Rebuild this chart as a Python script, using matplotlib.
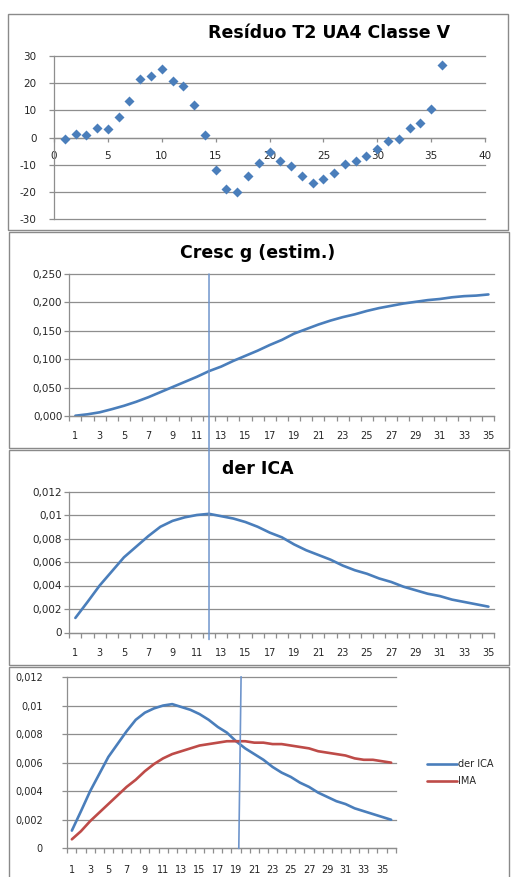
import matplotlib
matplotlib.use("Agg")
import matplotlib.pyplot as plt
from matplotlib.patches import Rectangle, ConnectionPatch
from matplotlib.ticker import FuncFormatter
import numpy as np

plt.rcParams["axes.unicode_minus"] = False

# ---------------- data ----------------
residual_age = list(range(1, 37))
residual = [-0.7, 1.3, 1.1, 3.5, 3.2, 7.5, 13.5, 21.4, 22.8, 25.3, 20.9, 19.1,
            11.8, 0.8, -11.9, -18.9, -19.9, -14.3, -9.4, -5.4, -8.5, -10.4,
            -14.0, -16.6, -15.3, -12.9, -9.7, -8.7, -6.8, -4.4, -1.3, -0.6,
            3.6, 5.2, 10.4, 26.7]

cresc_g = [0.0005, 0.003, 0.0065, 0.012, 0.018, 0.025, 0.033, 0.042, 0.051,
           0.060, 0.069, 0.079, 0.087, 0.097, 0.106, 0.115, 0.125, 0.134,
           0.145, 0.153, 0.161, 0.168, 0.174, 0.179, 0.185, 0.190, 0.194,
           0.198, 0.201, 0.204, 0.206, 0.209, 0.211, 0.212, 0.214]

der_ica = [0.00124, 0.0026, 0.0040, 0.0052, 0.0064, 0.0073, 0.0082, 0.0090,
           0.0095, 0.0098, 0.0100, 0.0101, 0.0099, 0.0097, 0.0094, 0.0090,
           0.0085, 0.0081, 0.0075, 0.0070, 0.0066, 0.0062, 0.0057, 0.0053,
           0.0050, 0.0046, 0.0043, 0.0039, 0.0036, 0.0033, 0.0031, 0.0028,
           0.0026, 0.0024, 0.0022, 0.0020]

ima = [0.00063, 0.0012, 0.0019, 0.0025, 0.0031, 0.0037, 0.0043, 0.0048,
       0.0054, 0.0059, 0.0063, 0.0066, 0.0068, 0.0070, 0.0072, 0.0073,
       0.0074, 0.0075, 0.0075, 0.0075, 0.0074, 0.0074, 0.0073, 0.0073,
       0.0072, 0.0071, 0.0070, 0.0068, 0.0067, 0.0066, 0.0065, 0.0063,
       0.0062, 0.0062, 0.0061, 0.0060]

ica_peak_age = 12      # maximum of the ICA derivative
crossing_age = 19.5    # der ICA meets IMA

titles = ["Resíduo T2 UA4 Classe V", "Cresc g (estim.)", "der ICA"]
legend_labels = ["der ICA", "IMA"]

# ---------------- style ----------------
BLUE = "#4a7ebb"
RED = "#be4b48"
GRID = "#8e8e8e"
TXT = "#262626"
MARK = "#6f95cc"
W, H = 514, 877

fig = plt.figure(figsize=(W / 100, H / 100), dpi=100)
fig.patch.set_facecolor("white")


def box(x0, y0, x1, y1):
    """pixel box (from the top-left) -> figure fraction [l, b, w, h]"""
    return [x0 / W, 1 - y1 / H, (x1 - x0) / W, (y1 - y0) / H]


def frame(x0, y0, x1, y1):
    fig.add_artist(Rectangle((x0 / W, 1 - y1 / H), (x1 - x0) / W, (y1 - y0) / H,
                             transform=fig.transFigure, fill=False,
                             edgecolor="#8a8a8a", linewidth=1.0))


def excel_general(v, pos=None):
    if abs(v) < 1e-12:
        return "0"
    return ("%g" % round(v, 6)).replace(".", ",")


def style_common(ax):
    for s in ["top", "right"]:
        ax.spines[s].set_visible(False)
    for s in ["left", "bottom"]:
        ax.spines[s].set_color(GRID)
        ax.spines[s].set_linewidth(0.9)
    ax.grid(axis="y", color=GRID, linewidth=0.9)
    ax.set_axisbelow(True)
    ax.set_facecolor("none")


def category_axis(ax, n, pad):
    ax.set_xlim(0.5, n + 0.5)
    ax.set_xticks(np.arange(1, n + 1, 2))
    ax.set_xticks(np.arange(0.5, n + 1, 1), minor=True)
    ax.tick_params(axis="x", which="major", length=0, pad=pad,
                   labelsize=7, labelcolor=TXT)
    ax.tick_params(axis="x", which="minor", length=3.5, width=0.9,
                   color=GRID, direction="out")


def title(x, y, text):
    fig.text(x / W, 1 - y / H, text, ha="center", va="center",
             fontsize=12.5, fontweight="bold", color="black")


# ---------------- panel frames ----------------
frame(8, 14, 508, 230)
frame(9, 232, 509, 448)
frame(9, 450, 509, 665)
frame(9, 667, 509, 890)

# ---------------- panel 1: residuals ----------------
ax1 = fig.add_axes(box(54, 56, 485, 219))
style_common(ax1)
ax1.scatter(residual_age, residual, marker="D", s=26, color=BLUE,
            linewidths=0, zorder=3)
ax1.set_xlim(0, 40)
ax1.set_ylim(-30, 30)
ax1.set_xticks(np.arange(0, 41, 5))
ax1.set_yticks(np.arange(-30, 31, 10))
for gl in ax1.get_ygridlines():
    gl.set_clip_on(False)
ax1.spines["bottom"].set_position(("data", 0))
ax1.tick_params(axis="x", length=3, width=0.9, color=GRID, pad=7,
                labelsize=7.5, labelcolor=TXT)
ax1.tick_params(axis="y", length=3.5, width=0.9, color=GRID, pad=9,
                labelsize=7.5, labelcolor=TXT)
title(329, 33, titles[0])

# ---------------- panel 2: cumulative growth ----------------
ages35 = np.arange(1, 36)
ax2 = fig.add_axes(box(69.3, 274, 494.5, 416))
style_common(ax2)
ax2.plot(ages35, cresc_g, color=BLUE, linewidth=1.9, solid_capstyle="round")
ax2.set_ylim(0, 0.25)
ax2.set_yticks(np.arange(0, 0.2501, 0.05))
ax2.yaxis.set_major_formatter(FuncFormatter(lambda v, p: ("%.3f" % v).replace(".", ",")))
category_axis(ax2, 35, 11)
ax2.tick_params(axis="y", length=3.5, width=0.9, color=GRID, pad=1.5,
                labelsize=7.5, labelcolor=TXT)
for gl in ax2.get_ygridlines():
    gl.set_clip_on(False)
title(258, 253, titles[1])

# ---------------- panel 3: derivative of ICA ----------------
ax3 = fig.add_axes(box(69.3, 491.5, 494.5, 632.5))
style_common(ax3)
ax3.plot(ages35, der_ica[:35], color=BLUE, linewidth=1.9, solid_capstyle="round")
ax3.set_ylim(0, 0.012)
ax3.set_yticks(np.arange(0, 0.01201, 0.002))
ax3.yaxis.set_major_formatter(FuncFormatter(excel_general))
category_axis(ax3, 35, 11)
ax3.tick_params(axis="y", length=3.5, width=0.9, color=GRID, pad=1.5,
                labelsize=7.5, labelcolor=TXT)
for gl in ax3.get_ygridlines():
    gl.set_clip_on(False)
title(258, 469, titles[2])

# marker line at the ICA peak, running from panel 2 into panel 3
con = ConnectionPatch(xyA=(ica_peak_age, 0.25), coordsA=ax2.transData,
                      xyB=(ica_peak_age, -0.0006), coordsB=ax3.transData,
                      color=MARK, linewidth=1.1)
fig.add_artist(con)

# ---------------- panel 4: der ICA vs IMA ----------------
ages36 = np.arange(1, 37)
ax4 = fig.add_axes(box(67.3, 677, 395.7, 848.3))
style_common(ax4)
l1, = ax4.plot(ages36, der_ica, color=BLUE, linewidth=1.9, solid_capstyle="round")
l2, = ax4.plot(ages36, ima, color=RED, linewidth=1.9, solid_capstyle="round")
ax4.set_ylim(0, 0.012)
ax4.set_yticks(np.arange(0, 0.01201, 0.002))
ax4.yaxis.set_major_formatter(FuncFormatter(excel_general))
category_axis(ax4, 36, 12)
ax4.tick_params(axis="y", length=3.5, width=0.9, color=GRID, pad=14,
                labelsize=7, labelcolor=TXT)
for gl in ax4.get_ygridlines():
    gl.set_clip_on(False)
ax4.plot([crossing_age + 0.05, crossing_age - 0.2], [0.012, 0.0],
         color=MARK, linewidth=1.2, zorder=4, clip_on=False)
fig.legend([l1, l2], legend_labels, loc="upper left",
           bbox_to_anchor=(427 / W, 1 - 759 / H), frameon=False,
           fontsize=7, handlelength=3.1, handletextpad=0.1,
           labelspacing=0.75, borderpad=0, borderaxespad=0,
           labelcolor=TXT)

fig.savefig("out.png", dpi=100, facecolor="white")
